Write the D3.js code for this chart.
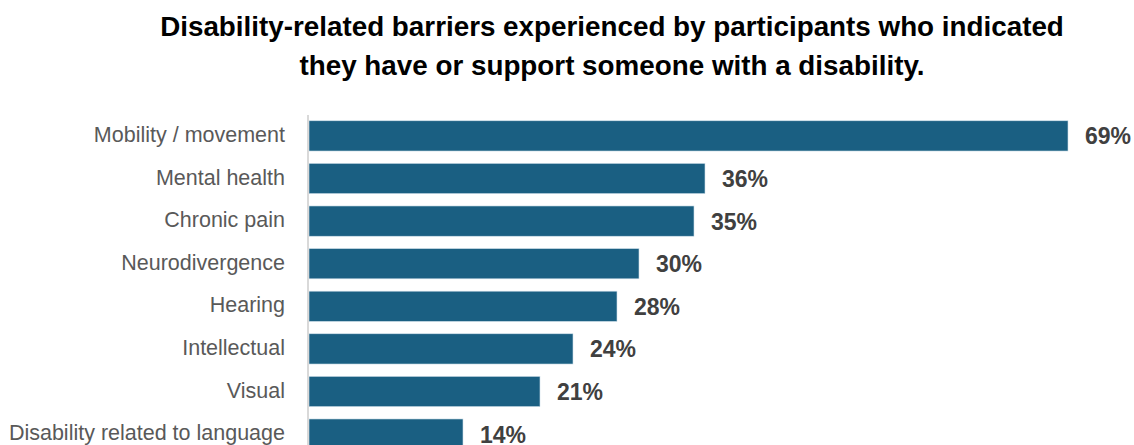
<!DOCTYPE html>
<html>
<head>
<meta charset="utf-8">
<script src="https://cdn.jsdelivr.net/npm/d3@7"></script>
<style>
  html, body { margin: 0; padding: 0; background: #ffffff; }
  svg { display: block; }
</style>
</head>
<body>
<svg id="chart" width="1134" height="445"></svg>
<script>
// Barrier categories and share of participants (%)
const categories = [
  "Mobility / movement",
  "Mental health",
  "Chronic pain",
  "Neurodivergence",
  "Hearing",
  "Intellectual",
  "Visual",
  "Disability related to language"
];
const values = [69, 36, 35, 30, 28, 24, 21, 14];
const titleLines = [
  "Disability-related barriers experienced by participants who indicated",
  "they have or support someone with a disability."
];

const svg = d3.select("#chart");

const x = d3.scaleLinear().domain([0, 70]).range([309, 309 + 770]);
const y = d3.scaleBand()
  .domain(categories)
  .range([114.6, 455.4])
  .paddingInner(0.29)
  .paddingOuter(0.145);

// Title
svg.append("g")
  .selectAll("text")
  .data(titleLines)
  .join("text")
  .attr("x", 612)
  .attr("y", (d, i) => 36 + i * 39)
  .attr("text-anchor", "middle")
  .attr("font-family", "'Liberation Sans', Arial, sans-serif")
  .attr("font-weight", "bold")
  .attr("font-size", 27.8)
  .attr("fill", "#000000")
  .text(d => d);

// Bars
svg.append("g")
  .selectAll("rect")
  .data(values)
  .join("rect")
  .attr("x", x(0))
  .attr("y", (d, i) => y(categories[i]))
  .attr("width", d => x(d) - x(0))
  .attr("height", y.bandwidth())
  .attr("fill", "#1a5f82")
  .attr("stroke", "#cfe0ea")
  .attr("stroke-width", 0.6);

// Vertical category axis line
svg.append("line")
  .attr("x1", 308).attr("x2", 308)
  .attr("y1", 115).attr("y2", 445)
  .attr("stroke", "#d9d9d9")
  .attr("stroke-width", 2);

// Category labels
svg.append("g")
  .selectAll("text")
  .data(categories)
  .join("text")
  .attr("x", 285)
  .attr("y", d => y(d) + y.bandwidth() / 2)
  .attr("dy", "0.28em")
  .attr("text-anchor", "end")
  .attr("font-family", "'Liberation Sans', Arial, sans-serif")
  .attr("font-size", 21.5)
  .attr("fill", "#595959")
  .text(d => d);

// Value labels
svg.append("g")
  .selectAll("text")
  .data(values)
  .join("text")
  .attr("x", d => x(d) + 17)
  .attr("y", (d, i) => y(categories[i]) + y.bandwidth() / 2)
  .attr("dy", "0.37em")
  .attr("font-family", "'Liberation Sans', Arial, sans-serif")
  .attr("font-weight", "bold")
  .attr("font-size", 23)
  .attr("fill", "#404040")
  .text(d => d + "%");
</script>
</body>
</html>
